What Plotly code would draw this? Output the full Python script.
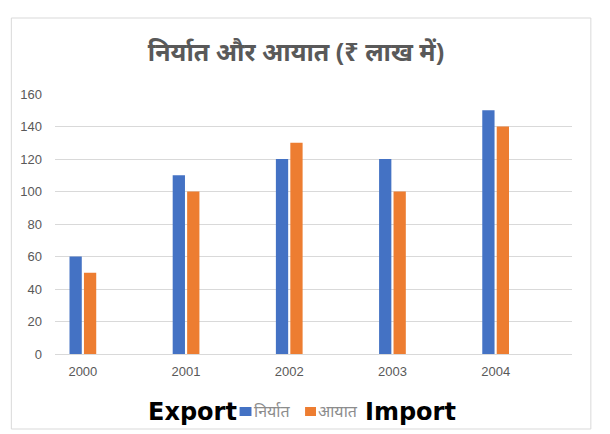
import plotly.graph_objects as go

years = ["2000", "2001", "2002", "2003", "2004"]
exports = [60, 110, 120, 120, 150]
imports = [50, 100, 130, 100, 140]
y_ticks = [0, 20, 40, 60, 80, 100, 120, 140, 160]

title_text = "निर्यात और आयात (₹ लाख में)"
export_name = "निर्यात"
import_name = "आयात"

BLUE = "#4472C4"
ORANGE = "#ED7D31"
GRAY = "#595959"
GRID = "#D9D9D9"

W, H = 610, 434
ML, MR, MT, MB = 43, 46, 86, 88

fig = go.Figure()
fig.add_trace(go.Bar(x=years, y=exports, name=export_name, marker_color=BLUE,
                     marker_line_width=0, showlegend=False))
fig.add_trace(go.Bar(x=years, y=imports, name=import_name, marker_color=ORANGE,
                     marker_line_width=0, showlegend=False))


def lx(p):
    return (p - ML) / (W - ML - MR)


def ly(p):
    return (H - MB - p) / (H - MT - MB)


shapes = [
    # chart frame
    dict(type="rect", xref="paper", yref="paper",
         x0=lx(-1), x1=lx(583), y0=ly(421), y1=ly(10),
         line=dict(color=GRID, width=1), fillcolor="rgba(0,0,0,0)", layer="below"),
    # legend squares
    dict(type="rect", xref="paper", yref="paper",
         x0=lx(229), x1=lx(241), y0=ly(408), y1=ly(399),
         fillcolor=BLUE, line=dict(width=0)),
    dict(type="rect", xref="paper", yref="paper",
         x0=lx(295), x1=lx(306), y0=ly(408), y1=ly(399),
         fillcolor=ORANGE, line=dict(width=0)),
]

annotations = [
    dict(text="<b>Export</b>", xref="paper", yref="paper", x=lx(228), y=ly(404),
         xanchor="right", yanchor="middle", showarrow=False,
         font=dict(family="DejaVu Sans", size=24, color="#000000")),
    dict(text=export_name, xref="paper", yref="paper", x=lx(242), y=ly(403),
         xanchor="left", yanchor="middle", showarrow=False,
         font=dict(family="Noto Sans", size=16, color="#8C8C8C")),
    dict(text=import_name, xref="paper", yref="paper", x=lx(306), y=ly(403),
         xanchor="left", yanchor="middle", showarrow=False,
         font=dict(family="Noto Sans", size=16, color="#8C8C8C")),
    dict(text="<b>Import</b>", xref="paper", yref="paper", x=lx(353), y=ly(404),
         xanchor="left", yanchor="middle", showarrow=False,
         font=dict(family="DejaVu Sans", size=24, color="#000000")),
]

fig.update_layout(
    width=W, height=H,
    margin=dict(l=ML, r=MR, t=MT, b=MB),
    paper_bgcolor="white", plot_bgcolor="white",
    barmode="group", bargap=0.72, bargroupgap=0.15,
    title=dict(text="<b>" + title_text + "</b>", x=288 / W, xanchor="center", xref="container",
               y=1 - 44 / H, yanchor="middle", yref="container",
               font=dict(family="Noto Sans", size=25, color=GRAY)),
    shapes=shapes,
    annotations=annotations,
    xaxis=dict(type="category", range=[-0.27, 4.74], showgrid=False,
               showline=False, ticks="", ticklabelstandoff=8,
               tickfont=dict(family="Liberation Sans", size=13, color=GRAY)),
    yaxis=dict(range=[0, 160], tickvals=y_ticks, showgrid=True, gridcolor=GRID,
               gridwidth=1, zeroline=True, zerolinecolor=GRID, zerolinewidth=1,
               showline=False, ticks="", ticklabelstandoff=12,
               tickfont=dict(family="Liberation Sans", size=13, color=GRAY)),
)

fig.write_html("out.html")
